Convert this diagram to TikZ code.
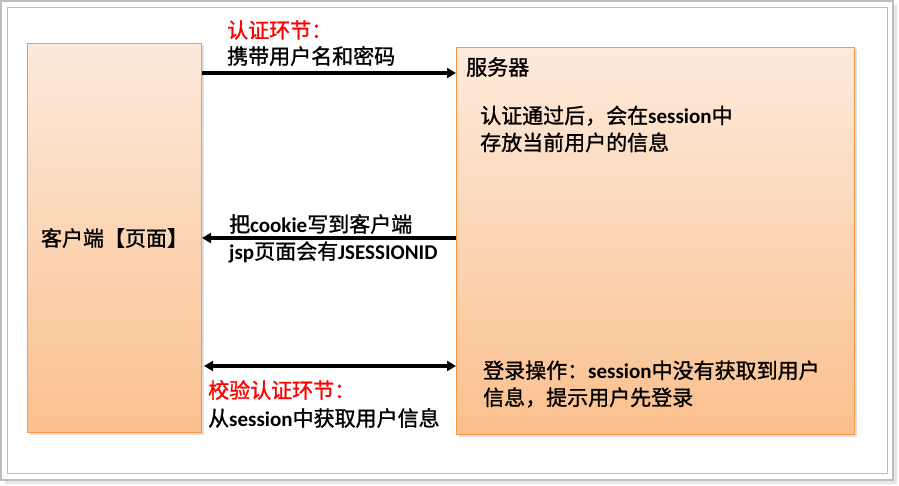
\documentclass[tikz,border=0pt]{standalone}
\usepackage{fontspec}
\setmainfont{Noto Sans CJK SC}[AutoFakeBold=1.2]
\newfontfamily\latfont{Carlito}
\newcommand{\lw}[1]{{\latfont\bfseries #1}}
\usetikzlibrary{arrows.meta,shadows}
\definecolor{boxtop}{RGB}{253,234,219}
\definecolor{boxbot}{RGB}{251,192,142}
\definecolor{boxline}{RGB}{247,150,70}
\definecolor{framegray}{RGB}{190,190,190}

\begin{document}
\begin{tikzpicture}
[x=1pt,y=-1pt,
 >={Triangle[length=9pt,width=10pt]},
 mybox/.style={draw=boxline,line width=1pt,top color=boxtop,bottom color=boxbot,
   drop shadow={opacity=0.25,shadow xshift=2pt,shadow yshift=-2pt},
   inner sep=0pt,anchor=north west,font=\fontsize{21}{27}\selectfont\bfseries},
 mytext/.style={anchor=west,inner sep=0pt,align=left,font=\fontsize{21}{27}\selectfont\bfseries},
 myhead/.style={mytext,text=red},
 myflow/.style={line width=3.5pt}]

\useasboundingbox (0,0) rectangle (899,486);

% frame
\draw[framegray,line width=1.5pt,fill=white,
  drop shadow={opacity=0.2,shadow xshift=4pt,shadow yshift=-4pt}] (1,1) rectangle (893,480);
\draw[framegray,line width=0.8pt] (7,7) rectangle (887,473);

% client and server
\node (client) at (27,43) [mybox,minimum width=174pt,minimum height=389pt] {客户端【页面】};
\node (server) at (456,47) [mybox,minimum width=398pt,minimum height=387pt] {};

% texts
\node (h1) at (227,30) [myhead] {认证环节：};
\node (t1) at (227,56) [mytext] {携带用户名和密码};
\node (t2) at (229,224) [mytext] {把\lw{cookie}写到客户端};
\node (t3) at (229,252) [mytext] {\lw{jsp}页面会有\lw{JSESSIONID}};
\node (h2) at (208,390) [myhead] {校验认证环节：};
\node (t4) at (208,418) [mytext] {从\lw{session}中获取用户信息};

\node (s0) at (466,67) [mytext] {服务器};
\node (s1) at (480,129) [mytext] {认证通过后，会在\lw{session}中\\存放当前用户的信息};
\node (s2) at (483,384) [mytext] {登录操作：\lw{session}中没有获取到用户\\信息，提示用户先登录};

% arrows
\coordinate (y1) at (0,73);
\coordinate (y2) at (0,238);
\coordinate (y3) at (0,366);
\draw[myflow,->] (client.east |- y1) -- (server.west |- y1);
\draw[myflow,->] (server.west |- y2) -- (client.east |- y2);
\draw[myflow,<->] ([xshift=2pt]client.east |- y3) -- (server.west |- y3);

\end{tikzpicture}
\end{document}
